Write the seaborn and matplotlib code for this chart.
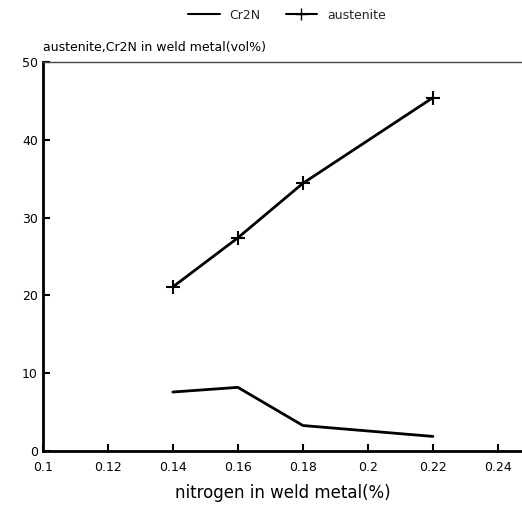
import matplotlib
matplotlib.use("Agg")
import matplotlib.pyplot as plt
import seaborn as sns
import pandas as pd
from matplotlib.lines import Line2D

nitrogen = [0.14, 0.16, 0.18, 0.22]
cr2n = [7.6, 8.2, 3.3, 1.9]
austenite = [21.1, 27.4, 34.4, 45.4]
xticks = [0.1, 0.12, 0.14, 0.16, 0.18, 0.2, 0.22, 0.24]
xticklabels = ["0.1", "0.12", "0.14", "0.16", "0.18", "0.2", "0.22", "0.24"]
yticks = [0, 10, 20, 30, 40, 50]

sns.set_theme(style="white")
plt.rcParams['font.family'] = ['DejaVu Sans']

df = pd.DataFrame({
    "nitrogen": nitrogen * 2,
    "value": cr2n + austenite,
    "phase": ["Cr2N"] * len(nitrogen) + ["austenite"] * len(nitrogen),
})

fig = plt.figure(figsize=(5.22, 5.11), dpi=100)
ax = fig.add_axes([0.082, 0.117, 0.918, 0.762])

sns.lineplot(data=df[df.phase == "Cr2N"], x="nitrogen", y="value", ax=ax,
             color="black", linewidth=2, legend=False)
sns.lineplot(data=df[df.phase == "austenite"], x="nitrogen", y="value", ax=ax,
             color="black", linewidth=2, marker="+", markersize=10,
             markeredgewidth=1.5, markeredgecolor="black", legend=False)

ax.set_xlim(0.1, 0.2474)
ax.set_ylim(0, 50)
ax.set_xticks(xticks)
ax.set_xticklabels(xticklabels)
ax.set_yticks(yticks)
ax.tick_params(direction="in", length=5, width=1.5, colors="black",
               labelsize=9, bottom=True, left=True)
ax.tick_params(axis="x", pad=7)
for s in ["left", "bottom"]:
    ax.spines[s].set_color("black")
    ax.spines[s].set_linewidth(2)
ax.spines["right"].set_visible(False)
ax.spines["top"].set_color("#444444")
ax.spines["top"].set_linewidth(1)
ax.spines["top"].set_linestyle((0, (6, 1)))

ax.set_xlabel("nitrogen in weld metal(%)", fontsize=12, labelpad=7, color="black")
ax.set_ylabel("")
fig.text(0.082, 0.907, "austenite,Cr2N in weld metal(vol%)", fontsize=9,
         ha="left", va="center", color="black")

handles = [Line2D([0], [0], color="black", lw=1.5),
           Line2D([0], [0], color="black", lw=1.5, marker="+", markersize=9)]
fig.legend(handles, ["Cr2N", "austenite"], loc="center", bbox_to_anchor=(0.55, 0.97),
           ncol=2, frameon=False, fontsize=9, handlelength=2.5, columnspacing=2)

fig.savefig("out.png", dpi=100)
